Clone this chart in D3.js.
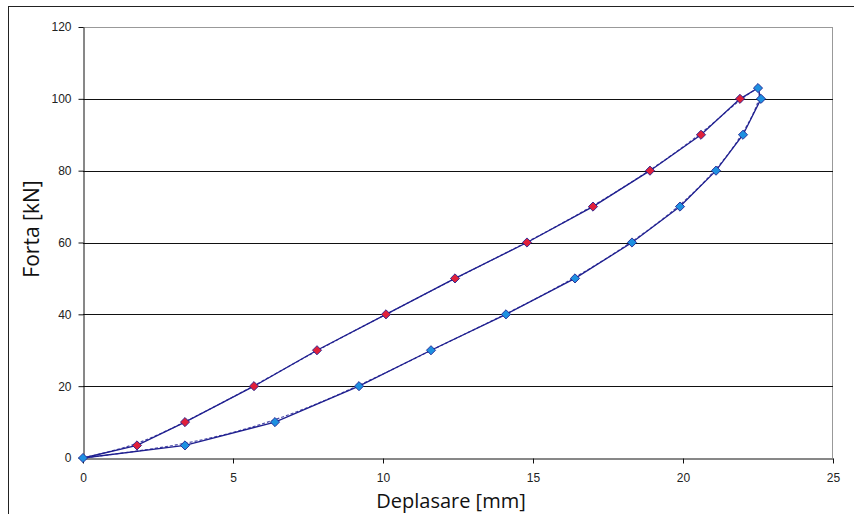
<!DOCTYPE html>
<html><head><meta charset="utf-8">
<script src="https://cdn.jsdelivr.net/npm/d3@7"></script>
<style>body{margin:0;background:#fff}svg{display:block}</style>
</head><body>
<svg id="c" width="854" height="514"></svg>
<script>
const loadX = [0, 1.8, 3.4, 5.7, 7.8, 10.1, 12.4, 14.8, 17.0, 18.9, 20.6, 21.9, 22.5];
const loadY = [0, 3.5, 10, 20, 30, 40, 50, 60, 70, 80, 90, 100, 103];
const unloadX = [22.5, 22.6, 22.0, 21.1, 19.9, 18.3, 16.4, 14.1, 11.6, 9.2, 6.4, 3.4, 0];
const unloadY = [103, 100, 90, 80, 70, 60, 50, 40, 30, 20, 10, 3.5, 0];
const xTicks = [0, 5, 10, 15, 20, 25];
const yTicks = [0, 20, 40, 60, 80, 100, 120];

const svg = d3.select("#c");
const x = d3.scaleLinear().domain([0, 25]).range([83, 833]);
const y = d3.scaleLinear().domain([0, 120]).range([458, 27]);

svg.append("rect").attr("x", 8.5).attr("y", 6.5).attr("width", 860).attr("height", 520)
  .attr("fill", "#fff").attr("stroke", "#222").attr("stroke-width", 1);

// plot area border (gray)
svg.append("line").attr("x1", 83).attr("x2", 833).attr("y1", 27.5).attr("y2", 27.5).attr("stroke", "#999");
svg.append("line").attr("x1", 832.5).attr("x2", 832.5).attr("y1", 27).attr("y2", 458).attr("stroke", "#999");

// gridlines
svg.append("g").selectAll("line").data(yTicks.filter(d => d > 0 && d < 120)).join("line")
  .attr("x1", 83).attr("x2", 833).attr("y1", d => Math.round(y(d)) + 0.5).attr("y2", d => Math.round(y(d)) + 0.5)
  .attr("stroke", "#111").attr("stroke-width", 1);

const font = "Liberation Sans, Arial, sans-serif";
const yAxis = svg.append("g").attr("transform", "translate(83.5,0)")
  .call(d3.axisLeft(y).tickValues(yTicks).tickSize(5).tickSizeOuter(0).tickPadding(7));
const xAxis = svg.append("g").attr("transform", "translate(0,458.5)")
  .call(d3.axisBottom(x).tickValues(xTicks).tickSize(5).tickSizeOuter(0).tickPadding(10));
[yAxis, xAxis].forEach(a => {
  a.select(".domain").attr("stroke", "#111");
  a.selectAll(".tick line").attr("stroke", "#111");
  a.selectAll("text").attr("font-family", font).attr("font-size", 12).attr("fill", "#222");
});

svg.append("text").attr("transform", "translate(39,229) rotate(-90)").attr("text-anchor", "middle")
  .attr("font-family", "Open Sans, sans-serif").attr("font-size", 21).attr("fill", "#111").text("Forta [kN]");
svg.append("text").attr("x", 451).attr("y", 508).attr("text-anchor", "middle")
  .attr("font-family", "Open Sans, sans-serif").attr("font-size", 20).attr("fill", "#111").text("Deplasare [mm]");

const navy = "#1f1f8f";
const load = loadX.map((v, i) => [v, loadY[i]]);
const unload = unloadX.map((v, i) => [v, unloadY[i]]);
const lineS = d3.line().x(d => x(d[0])).y(d => y(d[1]));
const lineD = d3.line().x(d => x(d[0])).y(d => y(d[1])).curve(d3.curveBasis);

[load, unload].forEach(s => {
  svg.append("path").datum(s).attr("d", lineD).attr("fill", "none").attr("stroke", "#4a4aa8")
    .attr("stroke-width", 1.2).attr("stroke-dasharray", "3,2");
  svg.append("path").datum(s).attr("d", lineS).attr("fill", "none").attr("stroke", navy).attr("stroke-width", 1.3);
});

const diamond = d3.symbol().type(d3.symbolSquare).size(42);
svg.append("g").selectAll("path").data(load.slice(1, -1)).join("path")
  .attr("d", diamond).attr("transform", d => `translate(${x(d[0])},${y(d[1])}) rotate(45)`)
  .attr("fill", "#e0203a").attr("stroke", navy).attr("stroke-width", 0.8);
svg.append("g").selectAll("path").data(unload).join("path")
  .attr("d", diamond).attr("transform", d => `translate(${x(d[0])},${y(d[1])}) rotate(45)`)
  .attr("fill", "#1e90e0").attr("stroke", navy).attr("stroke-width", 0.8);
</script>
</body></html>
